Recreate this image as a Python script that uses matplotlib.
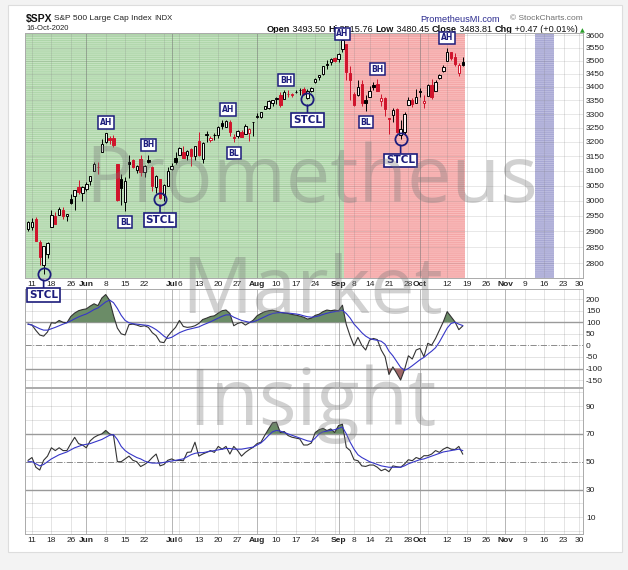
import numpy as np
import pandas as pd
import matplotlib
matplotlib.use("Agg")
import matplotlib.pyplot as plt
from matplotlib.patches import Rectangle
from matplotlib.text import Annotation
from matplotlib.ticker import NullLocator

plt.rcParams['hatch.linewidth'] = 0.6
plt.rcParams['axes.unicode_minus'] = False

W, H = 628, 570

# trading calendar May 8 -> Nov 30 2020, market holidays removed
holidays = pd.to_datetime(['2020-05-25', '2020-07-03', '2020-09-07', '2020-11-26'])
cal = pd.bdate_range('2020-05-08', '2020-11-30')
cal = cal[~cal.isin(holidays)]

# $SPX daily bars, May 8 - Oct 16 2020 (month by month)
opens = [2908.8, 2915.5, 2939.5, 2865.9, 2794.5, 2829.9, 2913.9, 2948.6, 2953.6, 2969.9, 2948.0, 3004.1, 3015.6, 3046.6, 3025.2,
         3038.8, 3064.8, 3098.9, 3111.6, 3163.8, 3199.9, 3213.3, 3213.4, 3123.5, 3071.0, 2993.8, 3131.0, 3136.1, 3101.6, 3140.3, 3094.4, 3138.7, 3114.4, 3046.6, 3073.2, 3018.6, 3050.2,
         3105.9, 3143.6, 3155.3, 3166.4, 3153.1, 3176.2, 3152.5, 3205.1, 3141.1, 3225.9, 3208.4, 3224.2, 3224.3, 3268.5, 3254.9, 3271.6, 3218.6, 3219.8, 3234.3, 3227.2, 3231.8, 3270.5,
         3288.3, 3289.9, 3317.4, 3323.2, 3340.1, 3356.0, 3370.3, 3355.5, 3372.9, 3368.7, 3380.9, 3387.0, 3392.5, 3360.5, 3386.0, 3418.1, 3435.9, 3449.97, 3485.1, 3494.7, 3509.7,
         3507.4, 3543.8, 3564.7, 3453.6, 3371.9, 3369.0, 3412.6, 3352.7, 3363.6, 3407.7, 3411.2, 3346.9, 3357.4, 3285.6, 3295.8, 3320.1, 3226.1, 3236.7, 3333.9, 3350.9, 3341.2,
         3385.9, 3338.9, 3367.3, 3408.7, 3384.6, 3434.3, 3459.7, 3500.0, 3534.0, 3515.5, 3453.7, 3493.50]
highs = [2932.2, 2944.3, 2945.8, 2874.1, 2852.8, 2865.0, 2968.1, 2964.2, 2980.3, 2978.5, 2956.8, 3021.7, 3036.3, 3068.7, 3049.2,
         3062.2, 3081.1, 3130.9, 3128.9, 3211.7, 3233.1, 3222.7, 3223.3, 3123.5, 3088.4, 3079.8, 3153.5, 3141.2, 3120.0, 3155.5, 3120.9, 3154.9, 3115.0, 3086.3, 3073.7, 3053.9, 3111.5,
         3128.4, 3165.8, 3182.6, 3184.2, 3171.8, 3179.8, 3186.8, 3235.3, 3200.9, 3238.3, 3220.4, 3233.5, 3258.6, 3277.3, 3279.3, 3279.9, 3227.3, 3241.4, 3243.7, 3264.7, 3250.9, 3272.2,
         3302.7, 3306.8, 3330.8, 3351.0, 3352.5, 3363.3, 3381.0, 3387.9, 3387.2, 3378.5, 3387.6, 3395.1, 3399.5, 3390.8, 3400.0, 3432.1, 3444.2, 3481.1, 3501.4, 3509.2, 3514.8,
         3528.0, 3588.1, 3564.9, 3479.2, 3380.0, 3424.8, 3425.6, 3369.0, 3402.9, 3419.5, 3428.9, 3375.2, 3362.3, 3285.6, 3320.3, 3323.4, 3278.7, 3306.9, 3360.7, 3357.9, 3393.6,
         3397.2, 3369.1, 3409.6, 3431.6, 3426.3, 3447.3, 3482.3, 3549.9, 3534.0, 3527.9, 3489.1, 3515.76]
lows = [2902.9, 2903.4, 2869.6, 2793.2, 2766.6, 2816.8, 2913.9, 2922.4, 2953.6, 2938.6, 2933.6, 2988.2, 2969.8, 3023.4, 2998.6,
        3031.5, 3051.6, 3098.9, 3090.4, 3163.8, 3196.0, 3193.1, 3181.5, 2999.5, 2984.5, 2965.7, 3076.1, 3108.0, 3093.5, 3083.1, 3079.4, 3127.1, 3032.1, 3024.0, 3004.6, 2999.7, 3047.8,
        3101.2, 3124.5, 3155.3, 3142.9, 3136.5, 3115.7, 3136.2, 3149.4, 3127.7, 3200.8, 3198.6, 3205.7, 3215.2, 3247.8, 3253.1, 3222.7, 3200.0, 3214.3, 3216.2, 3227.2, 3204.1, 3220.3,
        3284.5, 3286.4, 3317.4, 3318.1, 3328.7, 3335.4, 3326.4, 3355.5, 3363.4, 3361.6, 3379.2, 3370.2, 3369.7, 3354.7, 3379.3, 3413.1, 3425.8, 3444.1, 3468.4, 3484.3, 3493.3,
        3494.6, 3535.2, 3427.4, 3349.6, 3329.3, 3366.8, 3329.3, 3310.5, 3363.6, 3389.3, 3384.5, 3328.8, 3292.4, 3229.1, 3271.0, 3232.6, 3209.5, 3228.4, 3332.9, 3327.5, 3340.5,
        3361.4, 3323.7, 3367.3, 3354.5, 3384.6, 3428.2, 3458.1, 3499.6, 3500.9, 3480.6, 3441.4, 3480.45]
closes = [2929.8, 2930.2, 2870.1, 2820.0, 2852.5, 2863.7, 2953.9, 2922.9, 2971.6, 2948.5, 2955.5, 2991.8, 3036.1, 3029.7, 3044.3,
          3055.7, 3080.8, 3122.9, 3112.4, 3193.9, 3232.4, 3207.2, 3190.1, 3002.1, 3041.3, 3066.6, 3124.7, 3113.5, 3115.3, 3097.7, 3117.9, 3131.3, 3050.3, 3083.8, 3009.1, 3053.2, 3100.3,
          3115.9, 3130.0, 3179.7, 3145.3, 3169.9, 3152.1, 3185.0, 3155.2, 3197.5, 3226.6, 3215.6, 3224.7, 3251.8, 3257.3, 3276.0, 3235.7, 3215.6, 3239.4, 3218.4, 3258.4, 3246.2, 3271.1,
          3294.6, 3306.5, 3327.8, 3349.2, 3351.3, 3360.5, 3333.7, 3380.4, 3373.4, 3372.9, 3382.0, 3389.8, 3374.9, 3385.5, 3397.2, 3431.3, 3443.6, 3478.7, 3484.6, 3508.0, 3500.3,
          3526.7, 3580.8, 3455.1, 3427.0, 3331.8, 3399.0, 3339.2, 3341.0, 3383.5, 3401.2, 3385.5, 3357.0, 3319.5, 3281.1, 3315.6, 3236.9, 3246.6, 3298.5, 3351.6, 3335.5, 3363.0,
          3380.8, 3348.4, 3408.6, 3361.0, 3419.4, 3446.8, 3477.1, 3534.2, 3511.9, 3488.7, 3483.34, 3483.81]

# CCI (black) and its signal line (blue)
cci = [92, 88, 65, 45, 40, 58, 98, 96, 108, 100, 98, 125, 140, 150, 155,
       158, 170, 180, 172, 205, 220, 195, 130, 75, 50, 45, 90, 92, 88, 82, 85, 78, 55, 42, 15, 12, 40,
       60, 78, 108, 82, 78, 80, 85, 95, 112, 118, 125, 128, 140, 150, 153, 138, 85, 95, 100, 88, 98, 109,
       128, 138, 146, 150, 152, 148, 143, 140, 138, 134, 131, 127, 122, 114, 118, 130, 135, 146, 153, 150, 153,
       150, 174, 90, 40, -2, 35, 0, -20, 23, 30, 25, -20, -49, -126, -93, -121, -150, -105, -45, -59, -20,
       -13, -49, 9, 1, 30, 66, 102, 146, 124, 102, 68, 84]
cci_sig = [92, 88, 80, 72, 66, 66, 72, 78, 85, 92, 98, 106, 115, 123, 130,
           136, 145, 155, 162, 175, 188, 196, 185, 160, 130, 108, 98, 94, 92, 90, 88, 86, 78, 68, 55, 40, 30,
           35, 45, 55, 62, 68, 72, 76, 80, 88, 95, 102, 110, 118, 126, 132, 132, 122, 115, 108, 104, 100, 102,
           108, 116, 124, 132, 138, 141, 142, 141, 140, 138, 136, 133, 128, 124, 122, 124, 128, 134, 139, 143, 146,
           148, 152, 138, 118, 92, 74, 55, 40, 30, 25, 22, 18, 5, -25, -45, -70, -95, -108, -100, -88, -75,
           -62, -52, -38, -25, -10, 15, 45, 75, 95, 100, 92, 86]

# RSI (black) and its moving average (blue)
rsi = [51, 53, 46, 44, 51, 54, 60, 58, 60, 58, 58, 63, 67.5, 63, 62,
       60, 65, 67.5, 69, 70, 72.5, 70, 69, 50, 50, 52, 54, 51, 50, 46.5, 48, 50, 53, 55.5, 47, 48, 51,
       52, 50.7, 51, 50.7, 56.7, 57, 64, 54, 55.5, 56.7, 58, 56.7, 61, 59, 61, 55.5, 61, 58, 54, 56.7, 58.7, 60.4,
       63, 64, 69, 73.6, 78, 78.4, 71, 71.7, 68.8, 67.6, 67, 66.4, 62, 62, 63.5, 71, 73, 74, 72.4, 73.6, 71,
       76, 77, 60.4, 58, 51.4, 50.7, 47, 46.6, 47.6, 47.6, 46, 43.5, 44.7, 42.8, 47, 46.4, 46, 48.3, 51.4, 50.7, 53,
       52, 54.3, 54.3, 55.5, 58, 56.7, 59, 60.4, 59, 58.7, 61, 55.5]
rsi_sig = [50, 50, 48.5, 47, 48, 50, 52, 53.5, 55, 56, 57, 58.5, 60, 61, 62,
           62.5, 63, 64, 65, 66, 67.5, 69, 69.5, 66, 61, 58, 56, 54.5, 53, 52, 50.5, 49.5, 49, 49, 49, 49.5, 50,
           50.5, 51, 51.5, 52, 53.5, 55, 56, 56.5, 56.5, 57, 57.5, 58, 58.5, 59, 59.5, 59.5, 59, 59, 59, 59.5, 60,
           60.5, 62, 63.5, 66, 69, 71.5, 72.5, 72, 71, 70, 69, 68, 67, 66, 65, 64.5, 67, 70, 71.5, 72, 72.5,
           73, 74, 75, 70, 64, 59, 55, 53, 51.5, 50, 49, 48, 47, 46.5, 46, 46, 46, 46, 47, 48.5, 49.5, 50.5,
           51.5, 52, 53, 54, 55, 56, 57, 57.5, 58, 58.5, 59, 58]

# signal marks: (label, bar index)
marks_high = [('AH', 19), ('BH', 30), ('AH', 50.5), ('BH', 65.5), ('BH', 89), ('AH', 107)]
marks_low = [('BL', 24), ('BL', 52), ('BL', 86)]
stcl_bars = [3, 33, 71, 95]
top_mark = ('AH', 80)

# background zones (bar index ranges)
zones = [(-2, 80.5, '#c5e3c1', '#a9d3a4'),
         (80.5, 111.5, '#f9bcbc', '#f3a2a2'),
         (129.6, 134.5, '#bcbcdf', '#a4a4d2')]

opens, highs, lows, closes = map(np.array, (opens, highs, lows, closes))
cci, cci_sig, rsi, rsi_sig = map(np.array, (cci, cci_sig, rsi, rsi_sig))
x = np.arange(len(closes)) - 1  # May 11 -> 0

NAVY = '#1c1c7c'
RED = '#d0142c'

fig = plt.figure(figsize=(W / 100, H / 100), dpi=100, facecolor='#f3f3f3')
fig.add_artist(Rectangle((8 / W, 1 - 552 / H), 614 / W, 547 / H, transform=fig.transFigure,
                         fc='white', ec='#dddddd', lw=0.8, zorder=-10))


def panel(top, bottom):
    return fig.add_axes([25 / W, 1 - bottom / H, 558 / W, (bottom - top) / H])


ax_p = panel(33, 278)
ax_c = panel(289, 387)
ax_r = panel(388, 534)
ax_p.set_zorder(5)  # signal boxes may hang over the neighbours and the header

# week / month starts for ticks and grid
d = pd.Series(cal)
wk = d.dt.isocalendar().week.values
mo = d.dt.month.values
pos = np.arange(len(cal)) - 1
week_pos, month_pos = [], []
for i in range(1, len(cal)):
    if mo[i] != mo[i - 1]:
        month_pos.append(pos[i])
    elif wk[i] != wk[i - 1]:
        week_pos.append(pos[i])
tick_pos = sorted(week_pos + month_pos)
tick_bold = [p in month_pos for p in tick_pos]
tick_lab = [cal[p + 1].strftime('%b') if b else str(cal[p + 1].day) for p, b in zip(tick_pos, tick_bold)]

for ax in (ax_p, ax_c, ax_r):
    ax.set_xlim(-1.8, 142.0)
    for s in ax.spines.values():
        s.set_color('#aaaaaa')
        s.set_linewidth(0.7)
    for p in week_pos:
        ax.axvline(p, color='#808080', alpha=0.3, lw=0.5, zorder=1)
    for p in month_pos:
        ax.axvline(p, color='#707070', alpha=0.6, lw=0.6, zorder=1)
    ax.yaxis.tick_right()
    ax.tick_params(axis='y', length=0, pad=2.2, labelsize=6, labelcolor='#222222')
    ax.tick_params(axis='x', length=0, pad=1.8)
    ax.set_xticks(tick_pos)
    ax.set_xticklabels(tick_lab)
    for t, b in zip(ax.get_xticklabels(), tick_bold):
        t.set_fontfamily('Liberation Sans')
        t.set_fontsize(6)
        t.set_color('#222222')
        t.set_fontweight('bold' if b else 'normal')
ax_c.tick_params(axis='x', labelbottom=False)

# ---- price panel ----
ax_p.set_yscale('log')
ax_p.set_ylim(2755, 3608)
levels = list(range(2800, 3601, 50))
ax_p.set_yticks(levels)
ax_p.set_yticklabels([str(v) for v in levels])
ax_p.yaxis.set_minor_locator(NullLocator())
for v in levels:
    ax_p.axhline(v, color='#808080', alpha=0.25, lw=0.5, zorder=1)
for x0, x1, fc, hc in zones:
    ax_p.axvspan(x0, x1, facecolor=fc, edgecolor=hc, hatch='-' * 8, linewidth=0, zorder=0)

prev = np.r_[closes[0], closes[:-1]]
col = np.where(closes >= prev, 'black', RED)
face = [(1, 1, 1, 0.8) if c >= o else ec for c, o, ec in zip(closes, opens, col)]
body_lo = np.minimum(opens, closes)
body_hi = np.maximum(opens, closes)
ax_p.vlines(x, lows, body_lo, colors=col, lw=0.7, zorder=3)
ax_p.vlines(x, body_hi, highs, colors=col, lw=0.7, zorder=3)
ax_p.bar(x, np.maximum(body_hi - body_lo, 0.3), bottom=body_lo, width=0.62,
         color=face, edgecolor=col, linewidth=0.7, zorder=4)

box_small = dict(boxstyle='square,pad=0.22', fc='white', ec=NAVY, lw=1.1)
box_big = dict(boxstyle='square,pad=0.18', fc='white', ec=NAVY, lw=1.2)
lab_kw = dict(textcoords='offset points', ha='center', va='center', color=NAVY,
              fontweight='bold', family='DejaVu Sans', annotation_clip=False, zorder=7)


def bar_val(arr, i):
    return np.interp(i, x, arr)


for lab, i in marks_high:
    ax_p.annotate(lab, xy=(i, bar_val(highs, i)), xytext=(0, 7.2), fontsize=5.5, bbox=box_small, **lab_kw)
for lab, i in marks_low:
    ax_p.annotate(lab, xy=(i, bar_val(lows, i)), xytext=(0, -8), fontsize=5.5, bbox=box_small, **lab_kw)
lab, i = top_mark
ax_p.annotate(lab, xy=(i, highs[i + 1]), xytext=(0, 3), fontsize=5.5, bbox=box_small, **lab_kw)
for i in stcl_bars:
    lo = lows[i + 1]
    ax_p.plot(i, lo, marker='o', ms=8.8, mfc='none', mec=NAVY, mew=1.3, zorder=6, clip_on=False)
    ax_p.annotate('STCL', xy=(i, lo), xytext=(0, -15.2), fontsize=7.5, bbox=box_big,
                  arrowprops=dict(arrowstyle='-', color=NAVY, lw=1.2, shrinkA=0, shrinkB=4.4), **lab_kw)

# ---- CCI panel ----
ax_c.set_ylim(-180, 244)
ax_c.set_yticks([-150, -100, -50, 0, 50, 100, 150, 200])
for v in [-150, -50, 50, 150, 200]:
    ax_c.axhline(v, color='#808080', alpha=0.3, lw=0.5, zorder=1)
for v in [100, -100]:
    ax_c.axhline(v, color='#9a9a9a', lw=1.0, zorder=1)
ax_c.axhline(0, color='#8a8a8a', lw=0.7, ls='-.', zorder=1)
ax_c.fill_between(x, cci, 100, where=cci > 100, interpolate=True, color='#6b8c67', lw=0, zorder=2)
ax_c.fill_between(x, cci, -100, where=cci < -100, interpolate=True, color='#a06868', lw=0, zorder=2)
ax_c.plot(x, cci, color='#333333', lw=0.8, zorder=3)
ax_c.plot(x, cci_sig, color='#3636c8', lw=0.8, zorder=4)

# ---- RSI panel ----
ax_r.set_ylim(-2, 103)
ax_r.set_yticks([10, 30, 50, 70, 90])
for v in range(0, 101, 10):
    if v not in (30, 50, 70):
        ax_r.axhline(v, color='#808080', alpha=0.3, lw=0.5, zorder=1)
for v in [70, 30]:
    ax_r.axhline(v, color='#9a9a9a', lw=1.0, zorder=1)
ax_r.axhline(50, color='#8a8a8a', lw=0.7, ls='-.', zorder=1)
ax_r.fill_between(x, rsi, 70, where=rsi > 70, interpolate=True, color='#6b8c67', lw=0, zorder=2)
ax_r.plot(x, rsi, color='#333333', lw=0.8, zorder=3)
ax_r.plot(x, rsi_sig, color='#3636c8', lw=0.8, zorder=4)

for ax in (ax_p, ax_c, ax_r):
    for t in ax.get_yticklabels():
        t.set_fontfamily('Liberation Sans')


# ---- header ----
def fx(px):
    return px / W


def fy(py):
    return 1 - py / H


hdr = dict(family='Liberation Sans', va='center')
fig.text(fx(26), fy(19), '$SPX', fontsize=7.5, fontweight='bold', color='#111111', **hdr)
fig.text(fx(54), fy(19), 'S&P 500 Large Cap Index', fontsize=6, color='#222222', **hdr)
fig.text(fx(154), fy(19), 'INDX', fontsize=5.5, color='#222222', **hdr)
fig.text(fx(26), fy(29), cal[len(closes) - 1].strftime('%d-%b-%Y'), fontsize=5.5, color='#222222', **hdr)
fig.text(fx(420), fy(19), 'PrometheusMI.com', fontsize=6.6, color='#2b2b8f', **hdr)
fig.text(fx(510), fy(19), '\u00a9 StockCharts.com', fontsize=6, color='#707070', **hdr)

chg = closes[-1] - closes[-2]
parts = [('Open', 'bold'), (f' {opens[-1]:.2f} ', 'normal'),
         ('Hi', 'bold'), (f' {highs[-1]:.2f} ', 'normal'),
         ('Low', 'bold'), (f' {lows[-1]:.2f} ', 'normal'),
         ('Close', 'bold'), (f' {closes[-1]:.2f} ', 'normal'),
         ('Chg', 'bold'), (f' {chg:+.2f} ({chg / closes[-2] * 100:+.2f}%) ', 'normal')]
prev_t = fig.text(fx(267), fy(29), parts[0][0], fontsize=6.6, fontweight='bold', color='#111111', **hdr)
for s, w in parts[1:]:
    a = Annotation(s, xy=(1, 0), xycoords=prev_t, va='bottom', ha='left', fontsize=6.6,
                   fontweight=w, color='#111111', family='Liberation Sans')
    fig.add_artist(a)
    prev_t = a
fig.add_artist(Annotation('\u25b2', xy=(1, 0), xycoords=prev_t, va='bottom', ha='left',
                          fontsize=4.5, color='#2a9d2a', family='DejaVu Sans'))

# ---- watermark laid over the whole chart ----
wm = [('Prometheus', 202), ('Market', 313), ('Insight', 425)]
for word, yb in wm:
    fig.text(312 / W, 1 - yb / H, word, ha='center', va='baseline', fontsize=57, family='Open Sans',
             color='#787878', alpha=0.34, zorder=20)

# hide day labels that run into a month name (as the chart does)
fig.canvas.draw()
rend = fig.canvas.get_renderer()
for ax in (ax_p, ax_r):
    labs = ax.get_xticklabels()
    boxes = [t.get_window_extent(rend) for t in labs]
    for t, bb, b in zip(labs, boxes, tick_bold):
        if b:
            continue
        for bm, bb2 in zip(tick_bold, boxes):
            if bm and min(bb.x1, bb2.x1) - max(bb.x0, bb2.x0) > 1.0:
                t.set_visible(False)

fig.savefig('out.png', dpi=100, facecolor=fig.get_facecolor())
